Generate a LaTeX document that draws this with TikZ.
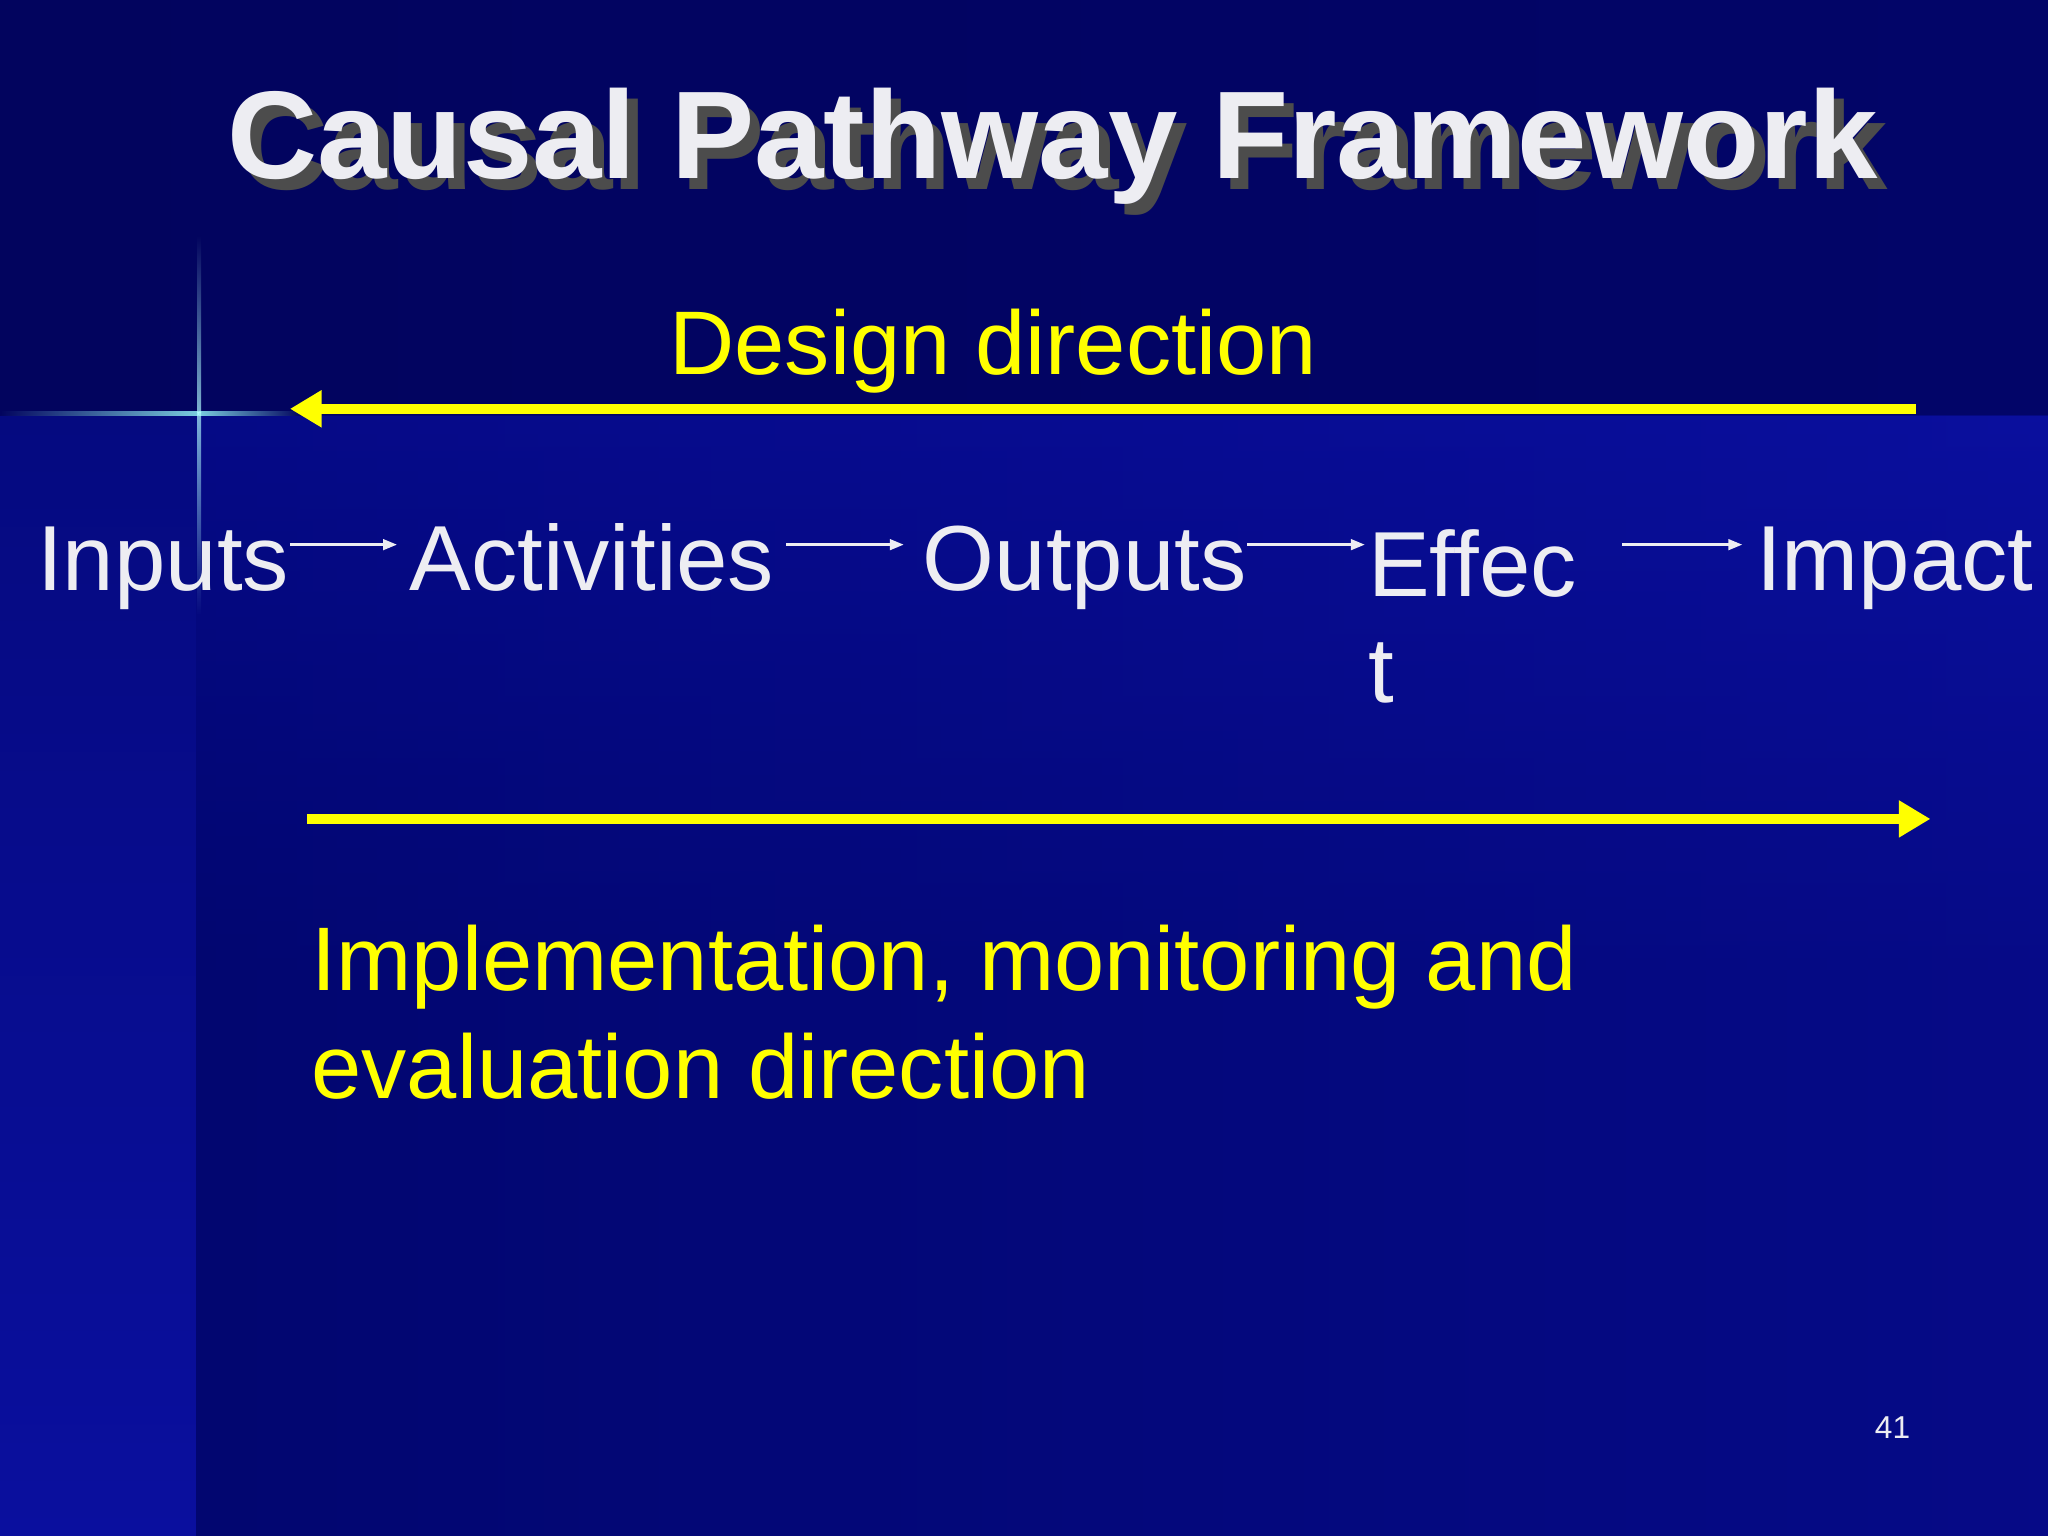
\documentclass[tikz,border=0pt]{standalone}
\usepackage{fontspec}
\setmainfont{Liberation Sans}
\usetikzlibrary{arrows.meta}
\definecolor{bgtop}{HTML}{02045E}
\definecolor{bgleft}{HTML}{050A80}
\definecolor{bgmain}{HTML}{0A0F9E}
\definecolor{bgdark}{HTML}{020670}
\definecolor{ylw}{HTML}{FFFF00}
\definecolor{txt}{HTML}{EDEDF2}
\tikzset{
  word/.style={anchor=base west,text=txt,font=\fontsize{26.3}{30}\selectfont,inner sep=0pt},
  yarrow/.style={ylw,line width=3pt,-{Triangle[length=9pt,width=10pt]}},
  warrow/.style={txt,line width=0.8pt,-{Triangle[length=4pt,width=3pt]}},
  ytext/.style={anchor=base west,text=ylw,inner sep=0pt,font=\fontsize{25.7}{30}\selectfont}
}
\begin{document}
\begin{tikzpicture}[x=0.01306cm,y=-0.01306cm]
\useasboundingbox (0,0) rectangle (1568,1176);
\shade[top color=bgmain,bottom color=bgdark,middle color=bgdark] (0,318) rectangle (1568,1176);
\shade[left color=bgdark,right color=bgmain,opacity=0.5] (150,318) rectangle (1568,1176);
\shade[top color=bgleft,bottom color=bgmain] (0,318) rectangle (150,1176);
\fill[bgtop] (0,0) rectangle (1568,318);
\shade[left color=bgtop,right color=bgdark,opacity=0.6] (0,0) rectangle (1568,318);
% flare
\shade[left color=bgtop,right color=cyan!40!white,opacity=0.8] (0,315) rectangle (152,318);
\shade[left color=cyan!40!white,right color=bgtop,opacity=0.8] (152,315) rectangle (230,318);
\shade[top color=bgtop,bottom color=cyan!30!white,opacity=0.7] (151,180) rectangle (154,316);
\shade[top color=cyan!30!white,bottom color=bgleft,opacity=0.7] (151,316) rectangle (154,470);
% title with shadow
\node[text=txt,font=\bfseries\fontsize{35.5}{40}\selectfont,anchor=base,inner sep=0pt] (title) at (806,137) {\rlap{\hskip3pt\raisebox{-3pt}{\textcolor{black!70}{Causal Pathway Framework}}}Causal Pathway Framework};
\node[ytext] (design) at (512,287) {Design direction};
\coordinate (d1) at (1467,313); \coordinate (d2) at (222,313);
\draw[yarrow] (d1) -- (d2);
% words
\node[word] (inp) at (28,452) {Inputs};
\node[word] (act) at (313,452) {Activities};
\node[word] (out) at (706,452) {Outputs};
\node[word] (eff) at (1047,457) {Effec};
\node[word] (eft) at (1047,538) {t};
\node[word] (imp) at (1344,452) {Impact};
\coordinate (a1) at (222,417); \coordinate (a2) at (304,417);
\coordinate (b1) at (602,417); \coordinate (b2) at (692,417);
\coordinate (c1) at (955,417); \coordinate (c2) at (1045,417);
\coordinate (e1) at (1242,417); \coordinate (e2) at (1334,417);
\draw[warrow] (a1) -- (a2);
\draw[warrow] (b1) -- (b2);
\draw[warrow] (c1) -- (c2);
\draw[warrow] (e1) -- (e2);
\coordinate (i1) at (235,627); \coordinate (i2) at (1478,627);
\draw[yarrow] (i1) -- (i2);
\node[ytext] (impl1) at (238,758) {Implementation, monitoring and};
\node[ytext] (impl2) at (238,841) {evaluation direction};
\node[anchor=base,text=txt,font=\fontsize{9}{10}\selectfont,inner sep=0pt] (num) at (1449,1101) {41};
\end{tikzpicture}
\end{document}
